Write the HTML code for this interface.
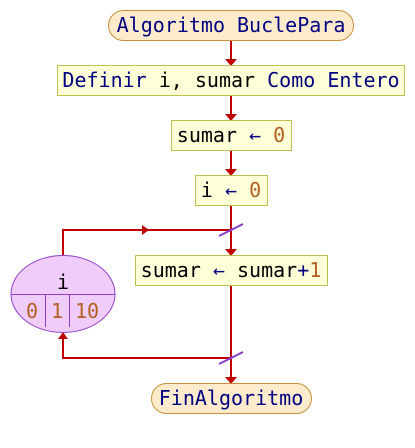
<!DOCTYPE html>
<html><head><meta charset="utf-8"><style>
html,body{margin:0;padding:0;background:#fff;width:415px;height:448px;overflow:hidden}
text{font-family:"DejaVu Sans Mono","Liberation Mono",monospace;font-size:20px}
</style></head><body>
<svg width="415" height="448" viewBox="0 0 415 448" xmlns="http://www.w3.org/2000/svg">
<g stroke="#c00000" stroke-width="2" fill="none">
<line x1="231" y1="40" x2="231" y2="64"/>
<line x1="231" y1="95" x2="231" y2="119"/>
<line x1="231" y1="150" x2="231" y2="174"/>
<line x1="231" y1="205" x2="231" y2="254"/>
<line x1="231" y1="285" x2="231" y2="382"/>
<polyline points="63,255 63,230 231,230"/>
<polyline points="231,358 63,358 63,333"/>
</g>
<g fill="#c00000">
<polygon points="225,59 237,59 231,66"/>
<polygon points="225,114 237,114 231,121"/>
<polygon points="225,169 237,169 231,176"/>
<polygon points="225,249 237,249 231,256"/>
<polygon points="225,377 237,377 231,384"/>
<polygon points="142,225 142,235 149,230"/>
<polygon points="58,339 68,339 63,332"/>
</g>
<g stroke="#8a3cc8" stroke-width="2">
<line x1="219" y1="236" x2="243" y2="224"/>
<line x1="219" y1="364" x2="243" y2="352"/>
</g>
<rect x="108.5" y="10.5" width="245" height="30" rx="15" fill="#fdebcc" stroke="#c8903c"/>
<text x="231" y="32" text-anchor="middle" fill="#000080">Algoritmo BuclePara</text>
<rect x="57.5" y="65.5" width="347" height="30" fill="#ffffd8" stroke="#c0c050"/>
<text x="231" y="87" text-anchor="middle" fill="#000080">Definir <tspan fill="#000">i, sumar</tspan> Como Entero</text>
<rect x="171.5" y="120.5" width="120" height="30" fill="#ffffd8" stroke="#c0c050"/>
<text x="231" y="142" text-anchor="middle" fill="#000">sumar <tspan fill="#000080">←</tspan> <tspan fill="#b06020">0</tspan></text>
<rect x="195.5" y="175.5" width="72" height="30" fill="#ffffd8" stroke="#c0c050"/>
<text x="231" y="197" text-anchor="middle" fill="#000">i <tspan fill="#000080">←</tspan> <tspan fill="#b06020">0</tspan></text>
<rect x="135.5" y="255.5" width="192" height="30" fill="#ffffd8" stroke="#c0c050"/>
<text x="231" y="277" text-anchor="middle" fill="#000">sumar <tspan fill="#000080">←</tspan> sumar<tspan fill="#000080">+</tspan><tspan fill="#b06020">1</tspan></text>
<ellipse cx="63" cy="294" rx="52" ry="38.5" fill="#f0ccfa" stroke="#9040c8"/>
<g stroke="#9040c8">
<line x1="11" y1="294.5" x2="115" y2="294.5"/>
<line x1="45.5" y1="294" x2="45.5" y2="327"/>
<line x1="69.5" y1="294" x2="69.5" y2="327"/>
</g>
<text x="63" y="289" text-anchor="middle" fill="#000">i</text>
<text x="32" y="318" text-anchor="middle" fill="#b06020">0</text>
<text x="57" y="318" text-anchor="middle" fill="#b06020">1</text>
<text x="87" y="318" text-anchor="middle" fill="#b06020">10</text>
<rect x="151.5" y="383.5" width="160" height="30" rx="15" fill="#fdebcc" stroke="#c8903c"/>
<text x="231" y="405" text-anchor="middle" fill="#000080">FinAlgoritmo</text>
</svg>
</body></html>
